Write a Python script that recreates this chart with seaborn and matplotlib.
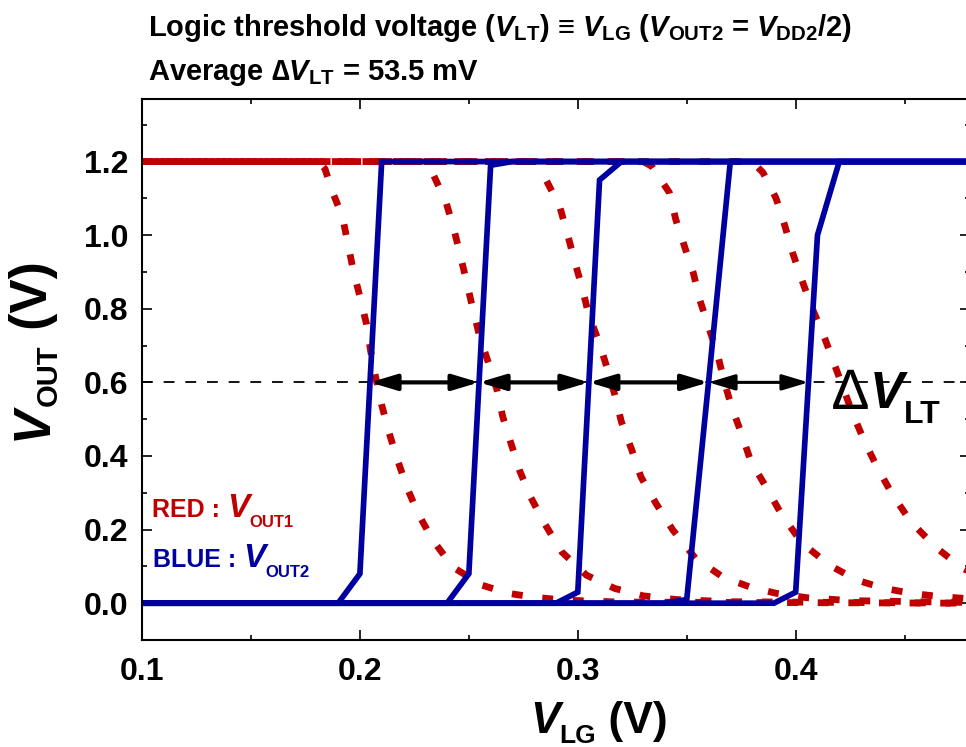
import numpy as np
import pandas as pd
import matplotlib
matplotlib.use("Agg")
import matplotlib.pyplot as plt
import seaborn as sns
from matplotlib.ticker import MultipleLocator

# ─── Data ────────────────────────────────────────────────────────────────────
# RED : V_OUT1 (dotted transfer curves)
red1_x = [0.100, 0.181, 0.184, 0.187, 0.192, 0.1945, 0.197, 0.200, 0.203, 0.205, 0.2073,
          0.210, 0.2133, 0.217, 0.2215, 0.2266, 0.2335, 0.2427, 0.256, 0.268, 0.280,
          0.295, 0.320, 0.480]
red1_y = [1.200, 1.200, 1.180, 1.124, 1.050, 0.977, 0.903, 0.833, 0.759, 0.683, 0.612,
          0.539, 0.465, 0.394, 0.316, 0.245, 0.171, 0.098, 0.049, 0.027, 0.016,
          0.008, 0.003, 0.000]

red2_x = [0.100, 0.230, 0.2335, 0.2395, 0.243, 0.246, 0.249, 0.2518, 0.255, 0.259, 0.2628,
          0.2656, 0.2693, 0.2734, 0.2784, 0.2849, 0.2927, 0.304, 0.317, 0.330, 0.345,
          0.370, 0.480]
red2_y = [1.200, 1.200, 1.167, 1.090, 1.020, 0.947, 0.873, 0.800, 0.724, 0.653, 0.582,
          0.506, 0.435, 0.359, 0.288, 0.215, 0.139, 0.076, 0.040, 0.020, 0.010,
          0.004, 0.000]

red3_x = [0.100, 0.281, 0.2858, 0.2917, 0.2954, 0.2986, 0.302, 0.305, 0.3097, 0.3134, 0.317,
          0.320, 0.3248, 0.329, 0.3358, 0.3436, 0.354, 0.3666, 0.379, 0.391, 0.405,
          0.425, 0.480]
red3_y = [1.200, 1.200, 1.146, 1.078, 1.000, 0.928, 0.857, 0.784, 0.710, 0.640, 0.566,
          0.493, 0.416, 0.343, 0.272, 0.199, 0.122, 0.071, 0.044, 0.027, 0.015,
          0.007, 0.002]

red4_x = [0.100, 0.330, 0.334, 0.342, 0.345, 0.349, 0.353, 0.356, 0.360, 0.364, 0.367,
          0.3706, 0.375, 0.3795, 0.3867, 0.3936, 0.403, 0.4156, 0.428, 0.440, 0.453,
          0.466, 0.480]
red4_y = [1.200, 1.200, 1.187, 1.116, 1.042, 0.969, 0.898, 0.824, 0.751, 0.680, 0.607,
          0.533, 0.463, 0.384, 0.313, 0.240, 0.163, 0.103, 0.063, 0.041, 0.027,
          0.018, 0.012]

red5_x = [0.100, 0.380, 0.385, 0.391, 0.395, 0.3986, 0.4028, 0.4073, 0.4124, 0.417, 0.4215,
          0.426, 0.4317, 0.4376, 0.4445, 0.453, 0.4647, 0.4766, 0.480]
red5_y = [1.200, 1.200, 1.170, 1.100, 1.026, 0.952, 0.879, 0.805, 0.735, 0.661, 0.590,
          0.517, 0.438, 0.367, 0.294, 0.220, 0.150, 0.095, 0.085]

# BLUE : V_OUT2 (solid transfer curves)
blue1_x = [0.10, 0.19, 0.20, 0.21, 0.48]
blue1_y = [0.00, 0.00, 0.08, 1.20, 1.20]
blue2_x = [0.10, 0.24, 0.25, 0.26, 0.27, 0.48]
blue2_y = [0.00, 0.00, 0.08, 1.19, 1.20, 1.20]
blue3_x = [0.10, 0.29, 0.30, 0.31, 0.32, 0.48]
blue3_y = [0.00, 0.00, 0.03, 1.15, 1.20, 1.20]
blue4_x = [0.10, 0.34, 0.35, 0.36, 0.37, 0.48]
blue4_y = [0.00, 0.00, 0.01, 0.60, 1.20, 1.20]
blue5_x = [0.10, 0.39, 0.40, 0.41, 0.42, 0.48]
blue5_y = [0.00, 0.00, 0.03, 1.00, 1.20, 1.20]

red_curves = [(red1_x, red1_y), (red2_x, red2_y), (red3_x, red3_y),
              (red4_x, red4_y), (red5_x, red5_y)]
blue_curves = [(blue1_x, blue1_y), (blue2_x, blue2_y), (blue3_x, blue3_y),
               (blue4_x, blue4_y), (blue5_x, blue5_y)]

V_HALF = 0.6  # V_DD2 / 2

RED = "#C00000"
BLUE = "#0000A0"
W, H = 966, 747

# ─── Style ───────────────────────────────────────────────────────────────────
sns.set_theme(style="ticks")
plt.rcParams["font.family"] = ["Liberation Sans", "DejaVu Sans"]
plt.rcParams["font.weight"] = "bold"
plt.rcParams["mathtext.fontset"] = "custom"
plt.rcParams["mathtext.rm"] = "Liberation Sans:bold"
plt.rcParams["mathtext.bf"] = "Liberation Sans:bold"
plt.rcParams["mathtext.it"] = "Liberation Sans:italic:bold"

fig = plt.figure(figsize=(W / 100, H / 100), dpi=100)
ax = fig.add_axes([142 / W, 107 / H, 828 / W, 541 / H])
renderer = fig.canvas.get_renderer()


def put_parts(x, y, parts, rotation=0):
    """Write text pieces one after another (pixel coords from top-left).
    parts: (text, size, italic, drop, color); drop lowers a piece (subscript)."""
    for s, size, italic, drop, color in parts:
        if rotation == 0:
            fx, fy = x, y + drop
        else:
            fx, fy = x + drop, y
        t = fig.text(fx / W, 1 - fy / H, s, fontsize=size, color=color,
                     fontweight="bold", fontstyle="italic" if italic else "normal",
                     ha="left", va="baseline", rotation=rotation,
                     rotation_mode="anchor")
        bb = t.get_window_extent(renderer)
        if rotation == 0:
            x += bb.width
        else:
            y -= bb.height


# red dotted curves, phase-shifted so the overlapping part looks solid
for i, (x, y) in enumerate(red_curves):
    df = pd.DataFrame({"V_LG": x, "V_OUT": y})
    sns.lineplot(data=df, x="V_LG", y="V_OUT", ax=ax, color=RED, lw=4.9,
                 linestyle=(0.9 * i, (1.6, 2.9)), estimator=None, sort=False)

for x, y in blue_curves:
    df = pd.DataFrame({"V_LG": x, "V_OUT": y})
    sns.lineplot(data=df, x="V_LG", y="V_OUT", ax=ax, color=BLUE, lw=4.1,
                 estimator=None, sort=False, solid_joinstyle="miter")

ax.axhline(V_HALF, color="black", lw=1.3, linestyle=(0, (6, 6)), zorder=1)

# ΔV_LT arrows between consecutive V_OUT2 = V_DD2/2 crossings
cross = [np.interp(V_HALF, y, x) for x, y in blue_curves]
for k, (a, b) in enumerate(zip(cross[:-1], cross[1:])):
    ax.annotate("", xy=(b, V_HALF), xytext=(a, V_HALF),
                arrowprops=dict(arrowstyle="<|-|>,head_length=0.8,head_width=0.24",
                                mutation_scale=20, color="black",
                                lw=3 if k < 3 else 2.2, shrinkA=0, shrinkB=0),
                zorder=5)

# ─── Axes ────────────────────────────────────────────────────────────────────
ax.set_xlim(0.1, 0.48)
ax.set_ylim(-0.1, 1.37)
ax.set_xlabel("")
ax.set_ylabel("")
ax.xaxis.set_major_locator(MultipleLocator(0.1))
ax.xaxis.set_minor_locator(MultipleLocator(0.05))
ax.yaxis.set_major_locator(MultipleLocator(0.2))
ax.yaxis.set_minor_locator(MultipleLocator(0.1))
ax.tick_params(which="both", direction="in", top=True, right=True, width=1.2,
               colors="black", labelsize=23)
ax.tick_params(which="major", length=7)
ax.tick_params(which="minor", length=3.6)
ax.tick_params(axis="x", pad=12)
ax.tick_params(axis="y", pad=10)
for lab in ax.get_xticklabels() + ax.get_yticklabels():
    lab.set_fontweight("bold")
for s in ax.spines.values():
    s.set_linewidth(1.5)
    s.set_color("black")

# ─── Texts ───────────────────────────────────────────────────────────────────
put_parts(530, 733, [("V", 32, True, 0, "black"), ("LG", 19, False, 10, "black"),
                     (" (V)", 32, False, 0, "black")])
put_parts(47, 440, [("V", 37, True, 0, "black"), ("OUT", 21, False, 10, "black"),
                    (" (V)", 37, False, 0, "black")], rotation=90)

put_parts(152, 517, [("RED : ", 18, False, 0, RED), ("V", 24, True, 0, RED),
                     ("OUT1", 12, False, 10, RED)])
put_parts(153, 567, [("BLUE : ", 18, False, 0, BLUE), ("V", 24, True, 0, BLUE),
                     ("OUT2", 12, False, 10, BLUE)])

fig.text(833 / W, 1 - 409 / H, "\u2206", fontsize=41, fontweight="normal",
         color="black", ha="left", va="baseline")
put_parts(870, 408, [("V", 37, True, 0, "black"), ("LT", 23, False, 15, "black")])

fig.text(148 / W, 1 - 36 / H,
         r"Logic threshold voltage ($V_{\mathrm{LT}}$) ≡ $V_{\mathrm{LG}}$ "
         r"($V_{\mathrm{OUT2}}$ = $V_{\mathrm{DD2}}$/2)",
         fontsize=21, color="black", ha="left", va="baseline")
fig.text(148 / W, 1 - 80 / H,
         "Average \u2206" + r"$V_{\mathrm{LT}}$ = 53.5 mV",
         fontsize=21, color="black", ha="left", va="baseline")

fig.savefig("out.png", dpi=100)
